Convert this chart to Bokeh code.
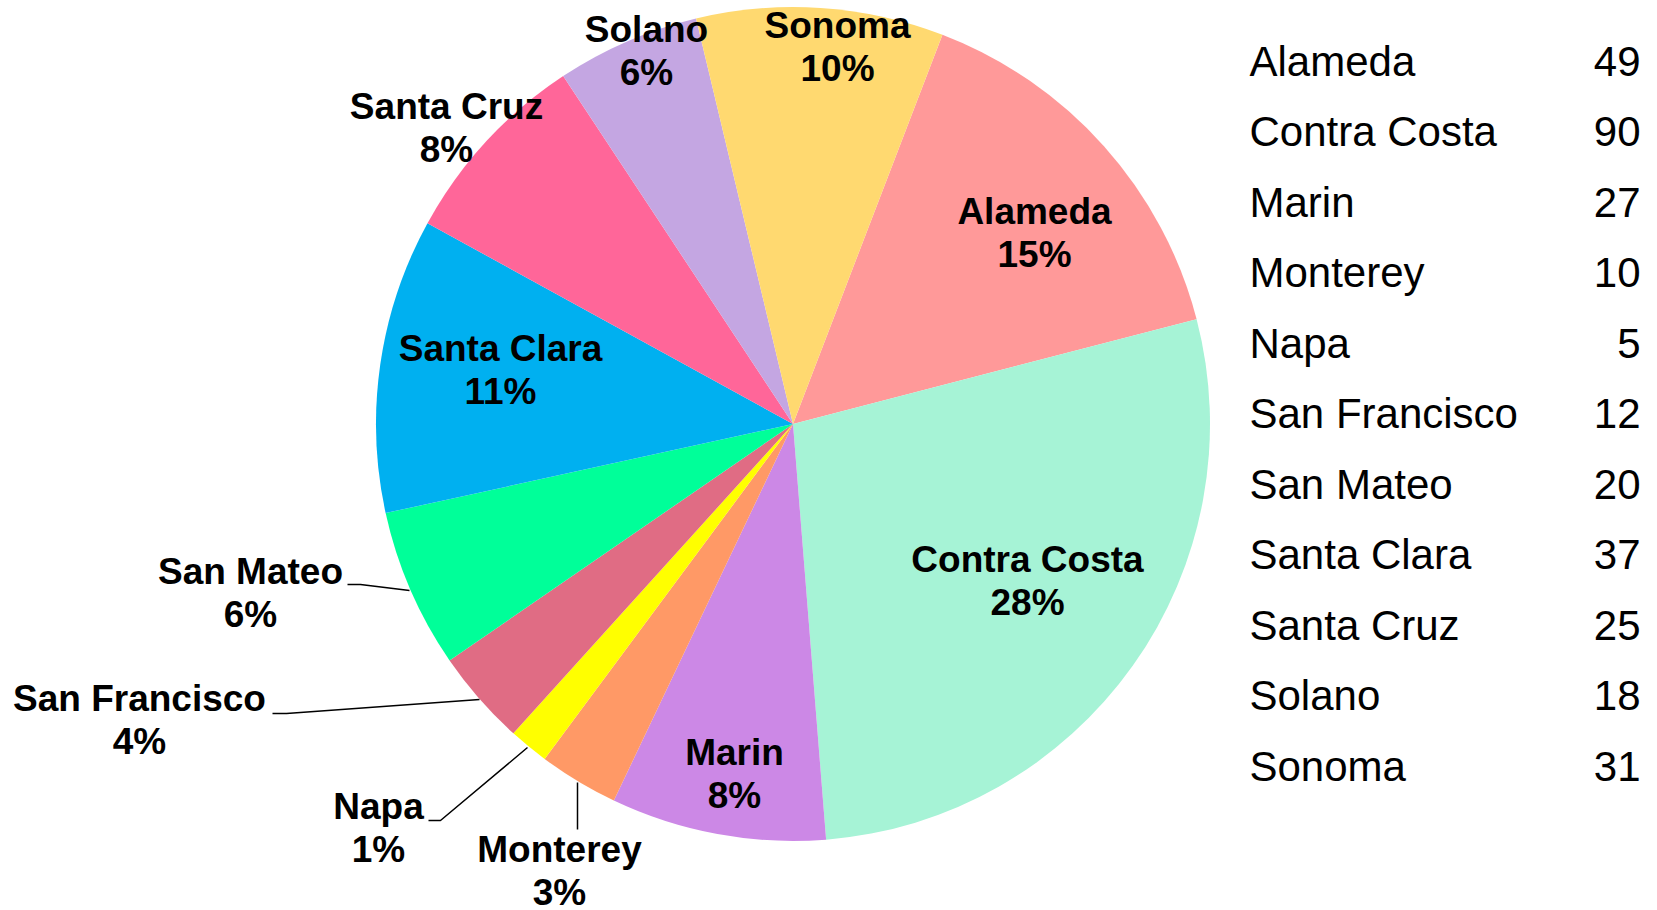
import math
from bokeh.plotting import figure
from bokeh.models import Range1d, ColumnDataSource
from bokeh.embed import file_html
from bokeh.resources import INLINE
from bokeh.core.properties import value

# ---------------- data ----------------
counties = ["Alameda", "Contra Costa", "Marin", "Monterey", "Napa", "San Francisco",
            "San Mateo", "Santa Clara", "Santa Cruz", "Solano", "Sonoma"]
counts = [49, 90, 27, 10, 5, 12, 20, 37, 25, 18, 31]
pct_labels = ["15%", "28%", "8%", "3%", "1%", "4%", "6%", "11%", "8%", "6%", "10%"]

# ---------------- styles / layout ----------------
colors = ["#FF9999", "#A6F3D6", "#CC88E6", "#FF9966", "#FFFF00", "#E06C84",
          "#00FF99", "#00B0F0", "#FF6699", "#C4A6E2", "#FFD970"]

W, H = 1641, 910
SCREEN_H = 910
TEXT_DY = -14  # baseline correction for text rendering


def sy(y):
    """screen pixel y -> data y"""
    return SCREEN_H - y


p = figure(width=W, height=H, x_range=Range1d(0, W), y_range=Range1d(SCREEN_H - H, SCREEN_H),
           output_backend="svg", toolbar_location=None, min_border=0)
p.axis.visible = False
p.grid.visible = False
p.outline_line_color = None
p.background_fill_color = "white"
p.border_fill_color = "white"

# pie geometry (screen px)
cx, cy, R = 792.5, 423.5, 417.0
first_angle = 21.0  # degrees clockwise from 12 o'clock

total = float(sum(counts))
starts, ends = [], []
cum = 0.0
for v in counts:
    a = first_angle + 360.0 * cum / total
    cum += v
    b = first_angle + 360.0 * cum / total
    starts.append(math.radians(90.0 - b))
    ends.append(math.radians(90.0 - a))

src = ColumnDataSource(dict(start=starts, end=ends, color=colors, name=counties, val=counts))
p.wedge(x=cx, y=sy(cy), radius=R, start_angle="start", end_angle="end",
        fill_color="color", line_color=None, source=src)

# data labels (screen positions: centre x, first-line baseline)
label_x = [1034, 1027, 734, 559, 378, 139, 250, 500, 446, 646, 837]
label_y = [225, 573, 766, 863, 820, 712, 585, 362, 120, 43, 39]
line_gap = 43

lab = ColumnDataSource(dict(
    x=label_x,
    y1=[sy(y + TEXT_DY) for y in label_y],
    y2=[sy(y + line_gap + TEXT_DY) for y in label_y],
    name=counties, pct=pct_labels))
for col, ycol in (("name", "y1"), ("pct", "y2")):
    p.text(x="x", y=ycol, text=col, source=lab, text_align="center",
           text_baseline="alphabetic", text_font=value("Liberation Sans"),
           text_font_style="bold", text_font_size="37px", text_color="black")

# leader lines (screen px)
leaders_x = [[347, 360, 409], [272, 286, 479], [428, 440, 527], [577, 577]]
leaders_y = [[584, 584, 590], [713, 713, 699], [820, 820, 747], [782, 829]]
p.multi_line(xs=leaders_x, ys=[[sy(v) for v in ys] for ys in leaders_y],
             line_color="black", line_width=1.5)

# right-hand table of values
row0, row_step = 75.0, 70.45
tab = ColumnDataSource(dict(
    y=[sy(row0 + row_step * i + TEXT_DY) for i in range(len(counties))],
    name=counties, val=[str(v) for v in counts]))
p.text(x=1249, y="y", text="name", source=tab, text_align="left",
       text_baseline="alphabetic", text_font=value("Liberation Sans"),
       text_font_size="42px", text_color="black")
p.text(x=1640, y="y", text="val", source=tab, text_align="right",
       text_baseline="alphabetic", text_font=value("Liberation Sans"),
       text_font_size="42px", text_color="black")

open("out.html", "w").write(file_html(p, INLINE))
